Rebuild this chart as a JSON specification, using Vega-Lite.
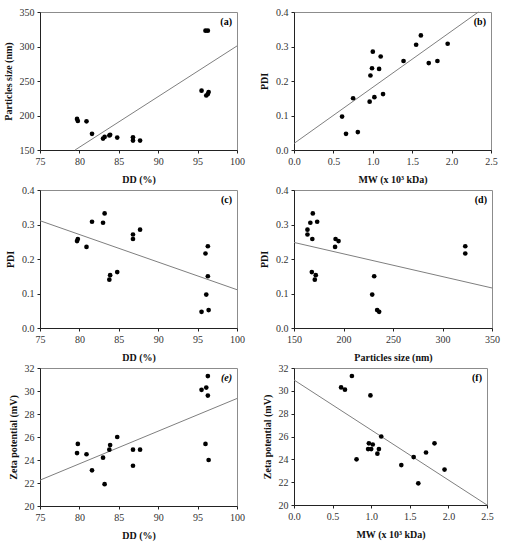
{
  "$schema": "https://vega.github.io/schema/vega-lite/v6.json",
  "padding": {"left": 2, "top": 6, "right": 10, "bottom": 4},
  "background": "white",
  "datasets": {
    "samples": [
      {"DD": 96.1, "MW": 0.61, "size": 229, "PDI": 0.097, "zeta": 30.3},
      {"DD": 95.5, "MW": 0.66, "size": 236, "PDI": 0.047, "zeta": 30.1},
      {"DD": 96.3, "MW": 0.75, "size": 231, "PDI": 0.150, "zeta": 31.3},
      {"DD": 96.4, "MW": 0.81, "size": 234, "PDI": 0.052, "zeta": 24.0},
      {"DD": 83.8, "MW": 0.96, "size": 171, "PDI": 0.140, "zeta": 24.9},
      {"DD": 96.0, "MW": 0.97, "size": 323, "PDI": 0.216, "zeta": 25.4},
      {"DD": 96.3, "MW": 0.99, "size": 323, "PDI": 0.237, "zeta": 29.6},
      {"DD": 87.7, "MW": 1.00, "size": 163.6, "PDI": 0.285, "zeta": 24.9},
      {"DD": 83.9, "MW": 1.02, "size": 172, "PDI": 0.153, "zeta": 25.3},
      {"DD": 80.9, "MW": 1.08, "size": 191.5, "PDI": 0.235, "zeta": 24.5},
      {"DD": 86.8, "MW": 1.10, "size": 163.6, "PDI": 0.271, "zeta": 24.9},
      {"DD": 84.8, "MW": 1.13, "size": 168, "PDI": 0.162, "zeta": 26.0},
      {"DD": 86.8, "MW": 1.39, "size": 168.5, "PDI": 0.258, "zeta": 23.5},
      {"DD": 83.0, "MW": 1.55, "size": 166.5, "PDI": 0.305, "zeta": 24.2},
      {"DD": 83.2, "MW": 1.61, "size": 169, "PDI": 0.332, "zeta": 21.9},
      {"DD": 79.7, "MW": 1.71, "size": 195, "PDI": 0.252, "zeta": 24.6},
      {"DD": 79.8, "MW": 1.82, "size": 192, "PDI": 0.258, "zeta": 25.4},
      {"DD": 81.6, "MW": 1.95, "size": 173.4, "PDI": 0.308, "zeta": 23.1}
    ],
    "fits": [
      {"panel": "a", "x": 79.45, "y": 150},
      {"panel": "a", "x": 100, "y": 300.8},
      {"panel": "b", "x": 0, "y": 0.019},
      {"panel": "b", "x": 2.34, "y": 0.4},
      {"panel": "c", "x": 75, "y": 0.311},
      {"panel": "c", "x": 100, "y": 0.111},
      {"panel": "d", "x": 150, "y": 0.248},
      {"panel": "d", "x": 350, "y": 0.116},
      {"panel": "e", "x": 75, "y": 22.25},
      {"panel": "e", "x": 100, "y": 29.35},
      {"panel": "f", "x": 0, "y": 30.95},
      {"panel": "f", "x": 2.5, "y": 20.0}
    ],
    "one": [{}]
  },
  "columns": 2,
  "spacing": {"column": 57, "row": 40},
  "bounds": "flush",
  "concat": [
    {
      "width": 197, "height": 138,
      "layer": [
        {
          "data": {"name": "fits"},
          "transform": [{"filter": "datum.panel == 'a'"}],
          "mark": {"type": "line", "color": "#7f7f7f", "strokeWidth": 1},
          "encoding": {
            "x": {"field": "x", "type": "quantitative", "scale": {"domain": [75, 100], "nice": false, "zero": false}, "axis": {"values": [75, 80, 85, 90, 95, 100], "format": "d"}, "title": "DD (%)"},
            "y": {"field": "y", "type": "quantitative", "scale": {"domain": [150, 350], "nice": false, "zero": false}, "axis": {"values": [150, 200, 250, 300, 350], "format": "d"}, "title": "Particles size (nm)"}
          }
        },
        {
          "data": {"name": "samples"},
          "mark": {"type": "circle", "color": "black", "size": 22, "opacity": 1},
          "encoding": {
            "x": {"field": "DD", "type": "quantitative"},
            "y": {"field": "size", "type": "quantitative"}
          }
        },
        {
          "data": {"name": "one"},
          "mark": {"type": "text", "text": "(a)", "align": "right", "baseline": "top", "dx": -5, "dy": 5, "fontWeight": "bold", "font": "Liberation Serif", "fontSize": 10},
          "encoding": {"x": {"datum": 100}, "y": {"datum": 350}}
        }
      ]
    },
    {
      "width": 197, "height": 138,
      "layer": [
        {
          "data": {"name": "fits"},
          "transform": [{"filter": "datum.panel == 'b'"}],
          "mark": {"type": "line", "color": "#7f7f7f", "strokeWidth": 1},
          "encoding": {
            "x": {"field": "x", "type": "quantitative", "scale": {"domain": [0, 2.5], "nice": false}, "axis": {"values": [0, 0.5, 1, 1.5, 2, 2.5], "format": ".1f"}, "title": "MW (x 10³ kDa)"},
            "y": {"field": "y", "type": "quantitative", "scale": {"domain": [0, 0.4], "nice": false}, "axis": {"values": [0, 0.1, 0.2, 0.3, 0.4], "format": ".1f"}, "title": "PDI"}
          }
        },
        {
          "data": {"name": "samples"},
          "mark": {"type": "circle", "color": "black", "size": 22, "opacity": 1},
          "encoding": {
            "x": {"field": "MW", "type": "quantitative"},
            "y": {"field": "PDI", "type": "quantitative"}
          }
        },
        {
          "data": {"name": "one"},
          "mark": {"type": "text", "text": "(b)", "align": "right", "baseline": "top", "dx": -5, "dy": 5, "fontWeight": "bold", "font": "Liberation Serif", "fontSize": 10},
          "encoding": {"x": {"datum": 2.5}, "y": {"datum": 0.4}}
        }
      ]
    },
    {
      "width": 197, "height": 138,
      "layer": [
        {
          "data": {"name": "fits"},
          "transform": [{"filter": "datum.panel == 'c'"}],
          "mark": {"type": "line", "color": "#7f7f7f", "strokeWidth": 1},
          "encoding": {
            "x": {"field": "x", "type": "quantitative", "scale": {"domain": [75, 100], "nice": false, "zero": false}, "axis": {"values": [75, 80, 85, 90, 95, 100], "format": "d"}, "title": "DD (%)"},
            "y": {"field": "y", "type": "quantitative", "scale": {"domain": [0, 0.4], "nice": false}, "axis": {"values": [0, 0.1, 0.2, 0.3, 0.4], "format": ".1f"}, "title": "PDI"}
          }
        },
        {
          "data": {"name": "samples"},
          "mark": {"type": "circle", "color": "black", "size": 22, "opacity": 1},
          "encoding": {
            "x": {"field": "DD", "type": "quantitative"},
            "y": {"field": "PDI", "type": "quantitative"}
          }
        },
        {
          "data": {"name": "one"},
          "mark": {"type": "text", "text": "(c)", "align": "right", "baseline": "top", "dx": -5, "dy": 5, "fontWeight": "bold", "font": "Liberation Serif", "fontSize": 10},
          "encoding": {"x": {"datum": 100}, "y": {"datum": 0.4}}
        }
      ]
    },
    {
      "width": 198, "height": 138,
      "layer": [
        {
          "data": {"name": "fits"},
          "transform": [{"filter": "datum.panel == 'd'"}],
          "mark": {"type": "line", "color": "#7f7f7f", "strokeWidth": 1},
          "encoding": {
            "x": {"field": "x", "type": "quantitative", "scale": {"domain": [150, 350], "nice": false, "zero": false}, "axis": {"values": [150, 200, 250, 300, 350], "format": "d"}, "title": "Particles size (nm)"},
            "y": {"field": "y", "type": "quantitative", "scale": {"domain": [0, 0.4], "nice": false}, "axis": {"values": [0, 0.1, 0.2, 0.3, 0.4], "format": ".1f"}, "title": "PDI"}
          }
        },
        {
          "data": {"name": "samples"},
          "mark": {"type": "circle", "color": "black", "size": 22, "opacity": 1},
          "encoding": {
            "x": {"field": "size", "type": "quantitative"},
            "y": {"field": "PDI", "type": "quantitative"}
          }
        },
        {
          "data": {"name": "one"},
          "mark": {"type": "text", "text": "(d)", "align": "right", "baseline": "top", "dx": -5, "dy": 5, "fontWeight": "bold", "font": "Liberation Serif", "fontSize": 10},
          "encoding": {"x": {"datum": 350}, "y": {"datum": 0.4}}
        }
      ]
    },
    {
      "width": 197, "height": 138,
      "layer": [
        {
          "data": {"name": "fits"},
          "transform": [{"filter": "datum.panel == 'e'"}],
          "mark": {"type": "line", "color": "#7f7f7f", "strokeWidth": 1},
          "encoding": {
            "x": {"field": "x", "type": "quantitative", "scale": {"domain": [75, 100], "nice": false, "zero": false}, "axis": {"values": [75, 80, 85, 90, 95, 100], "format": "d"}, "title": "DD (%)"},
            "y": {"field": "y", "type": "quantitative", "scale": {"domain": [20, 32], "nice": false, "zero": false}, "axis": {"values": [20, 22, 24, 26, 28, 30, 32], "format": "d"}, "title": "Zeta potential (mV)"}
          }
        },
        {
          "data": {"name": "samples"},
          "mark": {"type": "circle", "color": "black", "size": 22, "opacity": 1},
          "encoding": {
            "x": {"field": "DD", "type": "quantitative"},
            "y": {"field": "zeta", "type": "quantitative"}
          }
        },
        {
          "data": {"name": "one"},
          "mark": {"type": "text", "text": "(e)", "align": "right", "baseline": "top", "dx": -5, "dy": 5, "fontWeight": "bold", "fontStyle": "italic", "font": "Liberation Serif", "fontSize": 10},
          "encoding": {"x": {"datum": 100}, "y": {"datum": 32}}
        }
      ]
    },
    {
      "width": 193, "height": 137,
      "layer": [
        {
          "data": {"name": "fits"},
          "transform": [{"filter": "datum.panel == 'f'"}],
          "mark": {"type": "line", "color": "#7f7f7f", "strokeWidth": 1},
          "encoding": {
            "x": {"field": "x", "type": "quantitative", "scale": {"domain": [0, 2.5], "nice": false}, "axis": {"values": [0, 0.5, 1, 1.5, 2, 2.5], "format": ".1f"}, "title": "MW (x 10³ kDa)"},
            "y": {"field": "y", "type": "quantitative", "scale": {"domain": [20, 32], "nice": false, "zero": false}, "axis": {"values": [20, 22, 24, 26, 28, 30, 32], "format": "d"}, "title": "Zeta potential (mV)"}
          }
        },
        {
          "data": {"name": "samples"},
          "mark": {"type": "circle", "color": "black", "size": 22, "opacity": 1},
          "encoding": {
            "x": {"field": "MW", "type": "quantitative"},
            "y": {"field": "zeta", "type": "quantitative"}
          }
        },
        {
          "data": {"name": "one"},
          "mark": {"type": "text", "text": "(f)", "align": "right", "baseline": "top", "dx": -5, "dy": 5, "fontWeight": "bold", "font": "Liberation Serif", "fontSize": 10},
          "encoding": {"x": {"datum": 2.5}, "y": {"datum": 32}}
        }
      ]
    }
  ],
  "config": {
    "view": {"stroke": "#8c8c8c", "strokeWidth": 1},
    "axis": {
      "grid": false,
      "tickCount": 20,
      "domainColor": "#222",
      "tickColor": "#222",
      "tickSize": 3,
      "labelOverlap": false,
      "labelFlush": false,
      "labelFont": "Liberation Serif",
      "labelFontSize": 10,
      "labelColor": "#333",
      "labelPadding": 3,
      "titleFont": "Liberation Serif",
      "titleFontSize": 10,
      "titleFontWeight": "bold",
      "titleColor": "#111"
    },
    "axisX": {"titlePadding": 8},
    "axisY": {"titlePadding": 6}
  }
}
